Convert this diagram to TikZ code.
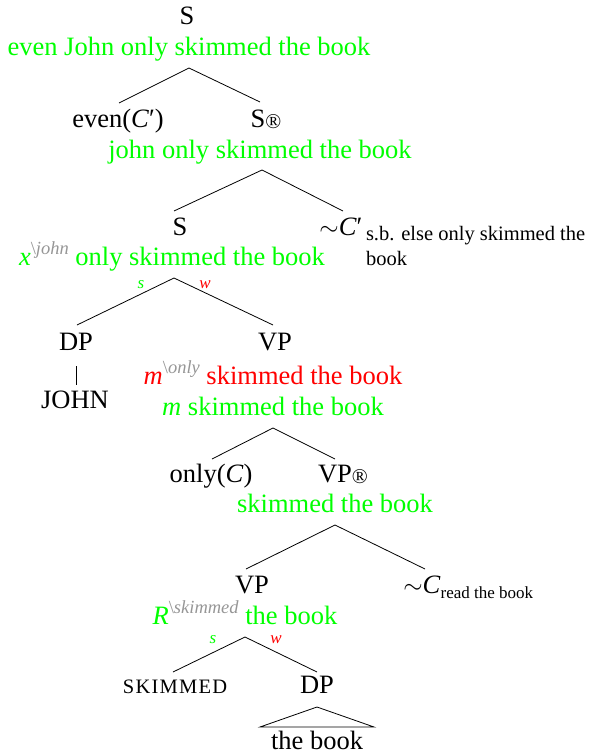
\documentclass[tikz,border=0pt]{standalone}
\usepackage{fontspec}
\setmainfont{Liberation Serif}
\definecolor{lgreen}{RGB}{0,255,0}
\definecolor{lred}{RGB}{255,0,0}
\definecolor{sgray}{RGB}{150,150,150}
\newcommand{\supgray}[1]{\raisebox{0.4em}{\fontsize{18.5}{18}\selectfont\color{sgray}\textbackslash\textit{#1}}}
\newcommand{\regmark}{\rlap{\raisebox{-1pt}{\fontsize{21}{21}\selectfont ®}}}
\begin{document}
\begin{tikzpicture}[x=1pt,y=-1pt,
  every node/.style={inner sep=0pt, outer sep=0pt, anchor=base},
  lbl/.style={font=\fontsize{26.5}{30}\selectfont},
  gtxt/.style={font=\fontsize{26.5}{30}\selectfont, text=lgreen},
  rtxt/.style={font=\fontsize{26.5}{30}\selectfont, text=lred},
  small/.style={font=\fontsize{20.5}{25}\selectfont},
  swl/.style={font=\fontsize{17}{17}\selectfont\itshape},
  edge/.style={draw=black, line width=0.8pt}]
\useasboundingbox (0,0) rectangle (592,755);

% level 0
\node[lbl] (S0) at (187,24) {S};
\node[gtxt] (g0) at (189,55) {even John only skimmed the book};
\coordinate (a0) at (189,68);
\coordinate (a0l) at (119,103);
\coordinate (a0r) at (260,102);
\draw[edge] (a0l) -- (a0) -- (a0r);

% level 1
\node[lbl] (even) at (118,127) {even(\textit{C}′)};
\node[lbl] (Sr) at (258,127) {S\regmark};
\node[gtxt] (g1) at (260,158) {john only skimmed the book};
\coordinate (a1) at (262,170);
\coordinate (a1l) at (174,211);
\coordinate (a1r) at (343,211);
\draw[edge] (a1l) -- (a1) -- (a1r);

% level 2
\node[lbl] (S2) at (180,235) {S};
\node[lbl] (Cp) at (341,235) {$\sim$\textit{C}′};
\node[small, anchor=base west] (sb) at (366,240) {s.b. else only skimmed the};
\node[small, anchor=base west] (sb2) at (366,265) {book};
\node[gtxt] (g2) at (172,265) {\textit{x}\supgray{john} only skimmed the book};
\coordinate (a2) at (174,278);
\coordinate (a2l) at (77,325);
\coordinate (a2r) at (273,325);
\draw[edge] (a2l) -- (a2) -- (a2r);
\node[swl, text=lgreen] (s1) at (141,288) {s};
\node[swl, text=lred] (w1) at (205,288) {w};

% level 3
\node[lbl] (DP1) at (76,350) {DP};
\node[lbl] (VP1) at (275,350) {VP};
\coordinate (j0) at (76,366);
\coordinate (j1) at (76,385);
\draw[edge] (j0) -- (j1);
\node[lbl] (JOHN) at (75,408) {JOHN};
\node[rtxt] (r1) at (273,384) {\textit{m}\supgray{only} skimmed the book};
\node[gtxt] (g3) at (273,415) {\textit{m} skimmed the book};
\coordinate (a3) at (273,428);
\coordinate (a3l) at (212,459);
\coordinate (a3r) at (335,459);
\draw[edge] (a3l) -- (a3) -- (a3r);

% level 4
\node[lbl] (only) at (211,482) {only(\textit{C})};
\node[lbl] (VPr) at (335,482) {VP\regmark};
\node[gtxt] (g4) at (335,512) {skimmed the book};
\coordinate (a4) at (335,525);
\coordinate (a4l) at (246,569);
\coordinate (a4r) at (425,569);
\draw[edge] (a4l) -- (a4) -- (a4r);

% level 5
\node[lbl] (VP2) at (252,593) {VP};
\node[lbl] (C) at (422,593) {$\sim$\textit{C}\rlap{\raisebox{-5pt}{\fontsize{17}{17}\selectfont read the book}}};
\node[gtxt] (g5) at (245,624) {\textit{R}\supgray{skimmed} the book};
\coordinate (a5) at (245,637);
\coordinate (a5l) at (173,672);
\coordinate (a5r) at (317,672);
\draw[edge] (a5l) -- (a5) -- (a5r);
\node[swl, text=lgreen] (s2) at (213,643) {s};
\node[swl, text=lred] (w2) at (276,643) {w};

% level 6
\node[font=\fontsize{20.5}{24}\selectfont\addfontfeature{LetterSpace=6}] (SK) at (175,693) {SKIMMED};
\node[lbl] (DP2) at (317,693) {DP};
\coordinate (t0) at (317,707);
\coordinate (t1) at (260,727);
\coordinate (t2) at (374,727);
\draw[edge] (t1) -- (t0) -- (t2) -- cycle;
\node[lbl] (book) at (317,749) {the book};
\end{tikzpicture}
\end{document}
